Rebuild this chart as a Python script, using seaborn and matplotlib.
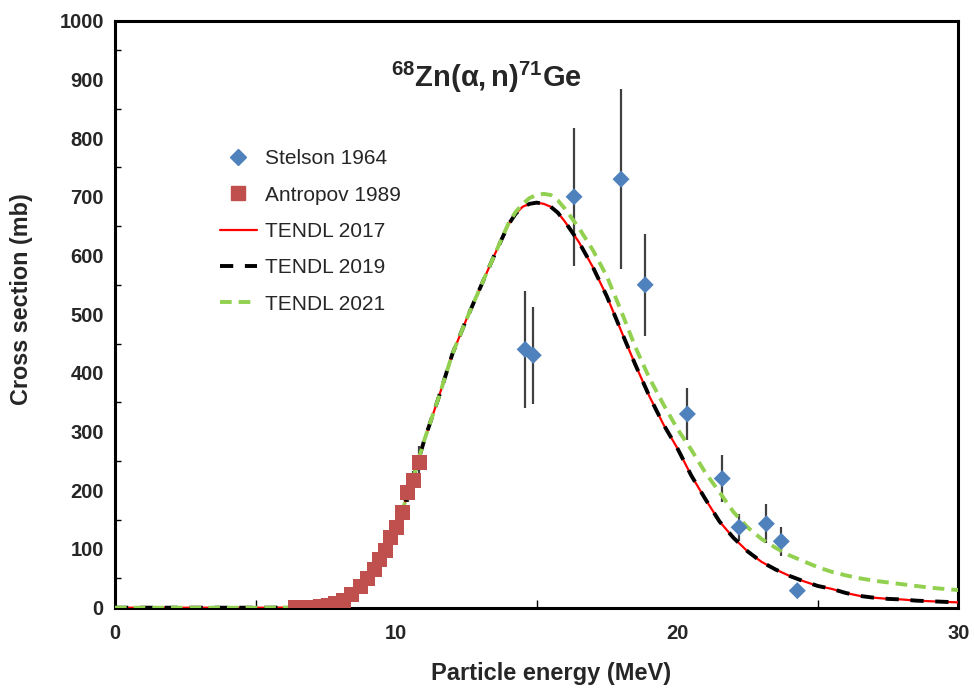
import numpy as np
import pandas as pd
import matplotlib
matplotlib.use("Agg")
import matplotlib.pyplot as plt
import seaborn as sns
from matplotlib.lines import Line2D

# ---------------- data ----------------
stelson_E = [14.59, 14.88, 16.33, 18.0, 18.86, 20.36, 21.6, 22.2, 23.17, 23.7, 24.27]
stelson_xs = [440, 430, 700, 730, 550, 330, 220, 137, 143, 113, 29]
stelson_err = [100, 83, 118, 153, 87, 45, 40, 23, 33, 25, 0]

antropov_E = [6.41, 6.70, 7.00, 7.30, 7.59, 7.83, 8.12, 8.42, 8.72, 8.98, 9.23,
              9.41, 9.61, 9.81, 10.0, 10.22, 10.41, 10.61, 10.82]
antropov_xs = [0.3, 0.4, 0.8, 2, 4.5, 8, 12, 22, 36, 49, 65,
               82, 97, 119, 137, 162, 196, 216, 248]
antropov_err = [0, 0, 0, 0, 0, 0, 1, 2, 3, 4, 5,
                7, 8, 10, 11, 13, 16, 17, 28]

tendl_E = [0, 1, 2, 3, 4, 5, 5.5, 6.0, 6.5, 7.0, 7.5, 8.0, 8.5, 9.0, 9.5, 10.0,
           10.5, 11.0, 11.5, 12.0, 12.5, 13.0, 13.5, 14.0, 14.25, 14.5, 14.75,
           15.0, 15.25, 15.5, 15.75, 16.0, 16.5, 17.0, 17.5, 18.0, 18.5, 19.0,
           19.5, 20.0, 20.5, 21.0, 21.5, 22.0, 22.5, 23.0, 23.5, 24.0, 24.5,
           25.0, 25.5, 26.0, 26.5, 27.0, 27.5, 28.0, 28.5, 29.0, 29.5, 30.0]
tendl2017 = [0, 0, 0, 0, 0, 0, 0, 0.2, 0.8, 2, 4, 9, 25, 48, 89, 137,
             204, 285, 356, 432, 491, 546, 601, 653, 671, 683, 688,
             690, 688, 683, 673, 658, 623, 580, 530, 472, 415, 361,
             313, 272, 225, 185, 147, 119, 96, 78, 65, 54, 45,
             37, 32, 25, 20, 17, 15, 14, 12, 11, 10, 9]
tendl2019 = list(tendl2017)
tendl2021 = [0, 0, 0, 0, 0, 0, 0, 0.2, 0.8, 2, 4, 9, 25, 48, 89, 137,
             204, 285, 356, 432, 491, 546, 601, 655, 674, 688, 698,
             703, 705, 703, 694, 680, 647, 609, 564, 506, 445, 392,
             347, 305, 269, 230, 197, 163, 137, 117, 102, 89, 79,
             69, 61, 55, 50, 46, 43, 40, 37, 34, 32, 30]

title = r"$\mathbf{^{68}Zn(}\mathbf{\alpha}\mathbf{,n)^{71}Ge}$"
xlabel = "Particle energy (MeV)"
ylabel = "Cross section (mb)"

# ---------------- style ----------------
sns.set_theme(style="white")
plt.rcParams["font.family"] = ["Liberation Sans", "DejaVu Sans"]
plt.rcParams["mathtext.fontset"] = "custom"
plt.rcParams["mathtext.rm"] = "Liberation Sans"
plt.rcParams["mathtext.bf"] = "Liberation Sans:bold"
plt.rcParams["mathtext.it"] = "Liberation Sans:italic"

fig = plt.figure(figsize=(9.74, 6.89), dpi=100)
ax = fig.add_axes([0.118, 0.118, 0.866, 0.852])

df_t = pd.DataFrame({"E": tendl_E, "t17": tendl2017, "t19": tendl2019, "t21": tendl2021})
df_s = pd.DataFrame({"E": stelson_E, "xs": stelson_xs, "err": stelson_err})
df_a = pd.DataFrame({"E": antropov_E, "xs": antropov_xs, "err": antropov_err})

red = "#FF0000"
green = "#92D050"
blue = "#4F81BD"
brick = "#C0504D"
ebar = "#404040"

# error bars
ax.errorbar(df_s["E"], df_s["xs"], yerr=df_s["err"], fmt="none", ecolor=ebar,
            elinewidth=1.6, capsize=0, zorder=2)
ax.errorbar(df_a["E"], df_a["xs"], yerr=df_a["err"], fmt="none", ecolor=ebar,
            elinewidth=1.6, capsize=0, zorder=2)

# curves
sns.lineplot(data=df_t, x="E", y="t17", ax=ax, color=red, lw=1.6, zorder=3)
sns.lineplot(data=df_t, x="E", y="t19", ax=ax, color="black", lw=2.8, zorder=4,
             linestyle=(0, (3.4, 3.0)))
sns.lineplot(data=df_t, x="E", y="t21", ax=ax, color=green, lw=2.8, zorder=5,
             linestyle=(0, (3.0, 1.8)))

# points
sns.scatterplot(data=df_a, x="E", y="xs", ax=ax, marker="s", s=115, color=brick,
                edgecolor="none", zorder=6)
sns.scatterplot(data=df_s, x="E", y="xs", ax=ax, marker="D", s=75, color=blue,
                edgecolor="none", zorder=7)

ax.set_xlim(0, 30)
ax.set_ylim(0, 1000)
ax.set_xticks([0, 10, 20, 30])
ax.set_xticks([5, 15, 25], minor=True)
ax.set_yticks(np.arange(0, 1001, 100))
ax.set_yticks(np.arange(50, 1000, 100), minor=True)
ax.tick_params(axis="both", which="both", direction="in", color="black",
               top=False, right=False)
ax.tick_params(axis="both", which="major", length=6, width=1.2, labelsize=14.5, pad=8)
ax.tick_params(axis="y", which="minor", length=4, width=1.0, left=True)
ax.tick_params(axis="x", which="minor", length=6, width=1.0, bottom=True)
ax.tick_params(axis="x", which="major", pad=12)
for lab in ax.get_xticklabels() + ax.get_yticklabels():
    lab.set_fontweight("bold")
for sp in ax.spines.values():
    sp.set_color("black")
    sp.set_linewidth(2.2)

ax.set_xlabel(xlabel, fontsize=17, fontweight="bold")
ax.set_ylabel(ylabel, fontsize=16.8, fontweight="bold")
ax.xaxis.set_label_coords(0.517, -0.093)
ax.yaxis.set_label_coords(-0.097, 0.525)

ax.text(0.441, 0.903, title, transform=ax.transAxes, fontsize=21,
        ha="center", va="center")

handles = [
    Line2D([], [], marker="D", color=blue, ls="none", markersize=8),
    Line2D([], [], marker="s", color=brick, ls="none", markersize=10),
    Line2D([], [], color=red, lw=1.6),
    Line2D([], [], color="black", lw=2.8, linestyle=(0, (3.4, 3.0))),
    Line2D([], [], color=green, lw=2.8, linestyle=(0, (3.0, 1.8))),
]
labels = ["Stelson 1964", "Antropov 1989", "TENDL 2017", "TENDL 2019", "TENDL 2021"]
ax.legend(handles, labels, loc="upper left", bbox_to_anchor=(0.115, 0.795),
          frameon=False, fontsize=15, labelspacing=0.83, handlelength=1.75,
          handletextpad=0.4, borderaxespad=0)

fig.savefig("out.png", dpi=100)
